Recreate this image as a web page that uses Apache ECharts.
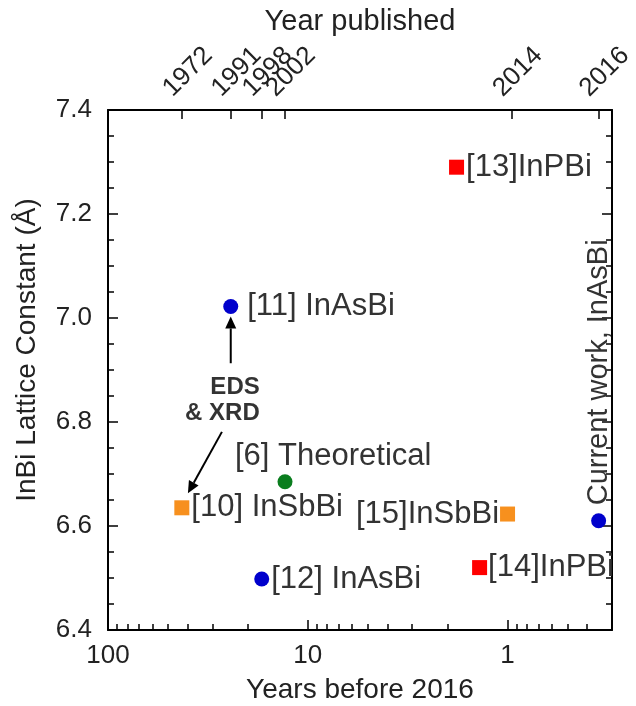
<!DOCTYPE html>
<html>
<head>
<meta charset="utf-8">
<script src="https://cdn.jsdelivr.net/npm/echarts@6/dist/echarts.min.js"></script>
<style>
  html, body { margin: 0; padding: 0; background: #fff; }
  #chart { width: 636px; height: 706px; }
</style>
</head>
<body>
<div id="chart"></div>
<script>
// InPBi reports (red squares)
const inpbiYears = [1.8, 1.38];
const inpbiLattice = [7.29, 6.52];
const inpbiRefs = ['[13]InPBi', '[14]InPBi'];

// InSbBi reports (orange squares)
const insbbiYears = [42.7, 1.0];
const insbbiLattice = [6.635, 6.623];
const insbbiRefs = ['[10] InSbBi', '[15]InSbBi'];

// InAsBi reports (blue circles)
const inasbiYears = [24.3, 17, 0.35];
const inasbiLattice = [7.022, 6.498, 6.61];
const inasbiRefs = ['[11] InAsBi', '[12] InAsBi', 'Current work, InAsBi'];

// Theoretical value (green circle)
const theoryYears = [13];
const theoryLattice = [6.685];
const theoryRefs = ['[6] Theoretical'];

// Top axis: publication years and where they sit on the years-before scale
const pubYears = [1972, 1991, 1998, 2002, 2014, 2016];
const pubYearsBefore = [42.7, 24.3, 17, 13, 0.95, 0.35];

const FONT = '"Liberation Sans", Arial, Helvetica, sans-serif';
const TEXT = '#333';

// label placement for each reference
const labelStyle = {
  '[13]InPBi': { position: 'right', distance: 2 },
  '[14]InPBi': { position: 'right', distance: 1 },
  '[10] InSbBi': { position: 'right', distance: 2 },
  '[15]InSbBi': { position: 'left', distance: 1 },
  '[11] InAsBi': { position: 'right', distance: 9 },
  '[12] InAsBi': { position: 'right', distance: 2 },
  'Current work, InAsBi': { position: 'top', distance: 8, rotate: 90, align: 'left', verticalAlign: 'middle', fontSize: 29 },
  '[6] Theoretical': { position: [-42.5, -17.5], align: 'left', verticalAlign: 'middle' }
};

function points(xs, ys, refs) {
  return xs.map((x, i) => ({
    value: [x, ys[i]],
    name: refs[i],
    label: Object.assign({ show: true, formatter: refs[i] }, labelStyle[refs[i]])
  }));
}

const pointLabel = { fontFamily: FONT, fontSize: 31, color: TEXT };

function scatter(name, xs, ys, refs, symbol, size, color) {
  return {
    name: name,
    type: 'scatter',
    xAxisIndex: 0,
    yAxisIndex: 0,
    symbol: symbol,
    symbolSize: size,
    itemStyle: { color: color, opacity: 1 },
    label: pointLabel,
    labelLayout: { hideOverlap: false },
    emphasis: { disabled: true },
    data: points(xs, ys, refs),
    z: 5
  };
}

// measurement-method note and its two arrows (tail -> head, in data units)
const noteAnchor = [17.4, 6.842];
const noteArrows = [
  [[24.3, 6.913], [24.3, 7.003]],
  [[26.9, 6.781], [39.8, 6.663]]
];

const tickColor = '#000';

function logXAxis(extra) {
  return Object.assign({
    type: 'log',
    logBase: 10,
    min: 0.3,
    max: 100,
    inverse: true,
    nameMoveOverlap: false,
    splitLine: { show: false },
    axisLine: { show: true, onZero: false, lineStyle: { color: '#000', width: 2 } }
  }, extra);
}

const option = {
  animation: false,
  backgroundColor: '#fff',
  textStyle: { fontFamily: FONT },
  grid: { left: 108, right: 24, top: 110, bottom: 76, containLabel: false, outerBoundsMode: 'none' },
  xAxis: [
    logXAxis({
      position: 'bottom',
      name: 'Years before 2016',
      nameLocation: 'middle',
      nameGap: 46,
      nameTextStyle: { fontFamily: FONT, fontSize: 28, color: '#222' },
      axisTick: { show: true, inside: true, length: 10, lineStyle: { color: tickColor, width: 1.5 } },
      minorTick: { show: true, splitNumber: 9, length: 6, lineStyle: { color: tickColor, width: 1.5 } },
      axisLabel: {
        fontFamily: FONT, fontSize: 26, color: '#222', margin: 13,
        showMinLabel: false,
        formatter: v => String(v)
      }
    }),
    logXAxis({
      position: 'top',
      name: 'Year published',
      nameLocation: 'middle',
      nameGap: 74,
      nameTextStyle: { fontFamily: FONT, fontSize: 29, color: '#222' },
      axisTick: { show: true, inside: true, length: 9, customValues: pubYearsBefore, lineStyle: { color: tickColor, width: 1.5 } },
      axisLabel: {
        show: true,
        customValues: pubYearsBefore,
        rotate: -45,
        align: 'center',
        verticalAlign: 'middle',
        padding: [0, 0, 0, 17],
        margin: 32,
        hideOverlap: false,
        fontFamily: FONT, fontSize: 26, color: '#222',
        formatter: v => {
          let best = 0;
          pubYearsBefore.forEach((b, i) => {
            if (Math.abs(Math.log10(b) - Math.log10(v)) < Math.abs(Math.log10(pubYearsBefore[best]) - Math.log10(v))) best = i;
          });
          return String(pubYears[best]);
        }
      }
    })
  ],
  yAxis: [
    {
      type: 'value',
      min: 6.4,
      max: 7.4,
      interval: 0.2,
      position: 'left',
      name: 'InBi Lattice Constant (Å)',
      nameLocation: 'middle',
      nameGap: 67,
      nameMoveOverlap: false,
      nameTextStyle: { fontFamily: FONT, fontSize: 28, color: '#222', padding: [0, 0, 0, 40] },
      splitLine: { show: false },
      axisLine: { show: true, onZero: false, lineStyle: { color: '#000', width: 2 } },
      axisTick: { show: true, inside: true, length: 10, lineStyle: { color: tickColor, width: 1.5 } },
      minorTick: { show: true, splitNumber: 4, length: 6, lineStyle: { color: tickColor, width: 1.5 } },
      axisLabel: { fontFamily: FONT, fontSize: 26, color: '#222', margin: 16, formatter: v => v.toFixed(1) }
    },
    {
      type: 'value',
      min: 6.4,
      max: 7.4,
      interval: 0.2,
      position: 'right',
      splitLine: { show: false },
      axisLine: { show: true, onZero: false, lineStyle: { color: '#000', width: 2 } },
      axisTick: { show: true, inside: true, length: 10, lineStyle: { color: tickColor, width: 1.5 } },
      minorTick: { show: true, splitNumber: 4, length: 6, lineStyle: { color: tickColor, width: 1.5 } },
      axisLabel: { show: false }
    }
  ],
  series: [
    scatter('InPBi', inpbiYears, inpbiLattice, inpbiRefs, 'rect', 15, '#ff0000'),
    scatter('InSbBi', insbbiYears, insbbiLattice, insbbiRefs, 'rect', 15, '#f7901e'),
    scatter('InAsBi', inasbiYears, inasbiLattice, inasbiRefs, 'circle', 15, '#0000cc'),
    scatter('Theory', theoryYears, theoryLattice, theoryRefs, 'circle', 15, '#0a7d1e'),
    {
      name: 'note',
      type: 'scatter',
      xAxisIndex: 0,
      yAxisIndex: 0,
      symbolSize: 0,
      silent: true,
      data: [{ value: noteAnchor }],
      label: {
        show: true,
        position: 'inside',
        formatter: 'EDS\n& XRD',
        align: 'right',
        verticalAlign: 'middle',
        fontFamily: FONT,
        fontSize: 24,
        fontWeight: 'bold',
        lineHeight: 26,
        color: '#000'
      },
      z: 6
    },
    {
      name: 'arrows',
      type: 'custom',
      xAxisIndex: 0,
      yAxisIndex: 0,
      silent: true,
      data: noteArrows.map(a => [a[0][0], a[0][1], a[1][0], a[1][1]]),
      encode: { x: [0, 2], y: [1, 3] },
      renderItem: function (params, api) {
        const p0 = api.coord([api.value(0), api.value(1)]);
        const p1 = api.coord([api.value(2), api.value(3)]);
        const dx = p1[0] - p0[0], dy = p1[1] - p0[1];
        const len = Math.hypot(dx, dy);
        const ux = dx / len, uy = dy / len;
        const headL = 12, headW = 5.5;
        const bx = p1[0] - ux * headL, by = p1[1] - uy * headL;
        return {
          type: 'group',
          children: [
            { type: 'line', shape: { x1: p0[0], y1: p0[1], x2: bx, y2: by }, style: { stroke: '#000', lineWidth: 2 } },
            { type: 'polygon', shape: { points: [[p1[0], p1[1]], [bx - uy * headW, by + ux * headW], [bx + uy * headW, by - ux * headW]] }, style: { fill: '#000' } }
          ]
        };
      },
      z: 6
    }
  ]
};

const chart = echarts.init(document.getElementById('chart'), null, { renderer: 'canvas' });
chart.setOption(option);
</script>
</body>
</html>
